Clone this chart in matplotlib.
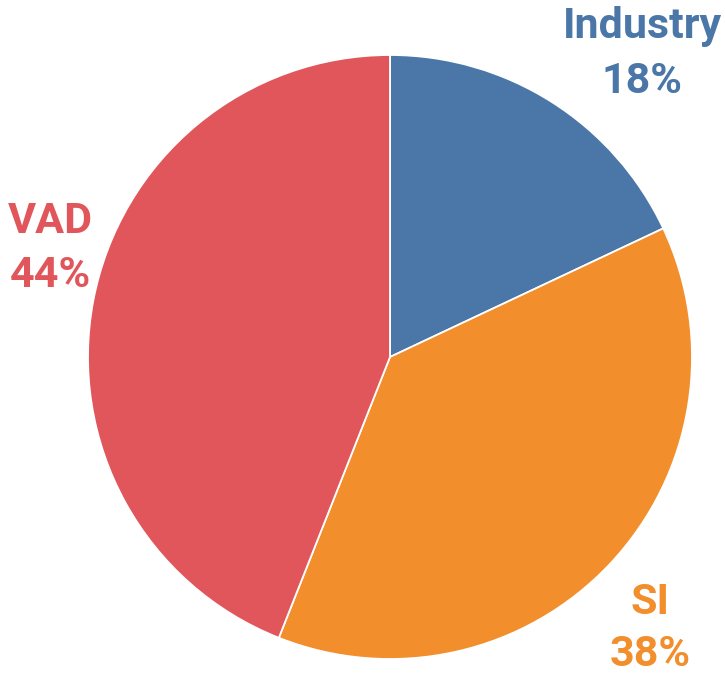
import matplotlib.pyplot as plt

labels = ["Industry", "SI", "VAD"]
shares = [18, 38, 44]
colors = ["#4A77A7", "#F28E2B", "#E0565A"]

# label anchor points in pixel coords (x, baseline of name, baseline of pct)
label_pos = {
    "Industry": (642, 38, 93),
    "SI": (650, 614, 666),
    "VAD": (50, 233, 287),
}

W, H = 725, 675
fig = plt.figure(figsize=(W / 100, H / 100), dpi=100)
ax = fig.add_axes([0, 0, 1, 1])

ax.pie(shares, colors=colors, startangle=90, counterclock=False,
       center=(390, H - 357), radius=302,
       wedgeprops=dict(edgecolor="white", linewidth=1.3))
ax.set_xlim(0, W)
ax.set_ylim(0, H)
ax.set_aspect("equal")
ax.axis("off")

font = dict(family=["Roboto", "DejaVu Sans"], fontweight="bold", fontsize=31)
for lab, val, col in zip(labels, shares, colors):
    x, y1, y2 = label_pos[lab]
    ax.text(x, H - y1, lab, color=col, ha="center", va="baseline", **font)
    ax.text(x, H - y2, f"{val}%", color=col, ha="center", va="baseline", **font)

fig.savefig("out.png", dpi=100)
